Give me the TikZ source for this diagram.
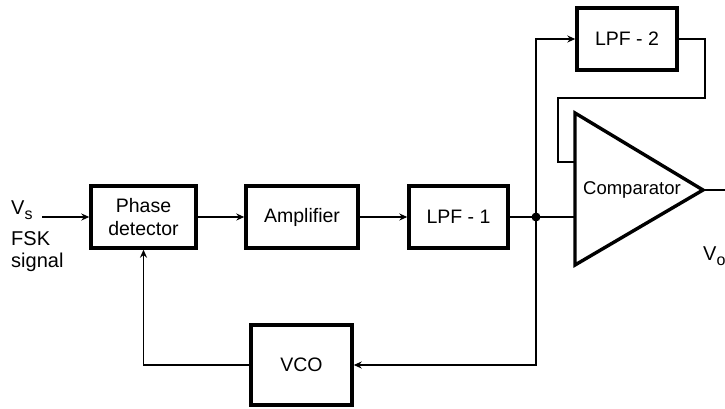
\documentclass[tikz,border=0pt]{standalone}
\usepackage{fontspec}
\setmainfont{Liberation Sans}
\usetikzlibrary{arrows.meta}
\begin{document}
\begin{tikzpicture}[x=1pt,y=-1pt,
  blk/.style={draw=black,line width=3.4pt,rectangle,inner sep=0pt,align=center,
     font=\fontsize{19.5}{23}\selectfont},
  wire/.style={line width=1.8pt},
  arr/.style={wire,-{Stealth[length=8pt,width=7pt]}},
  lbl/.style={inner sep=0pt,font=\fontsize{20}{22}\selectfont}]
\useasboundingbox (0,0) rectangle (725,408);
% blocks
\node[blk,minimum width=105pt,minimum height=62pt] (pd) at (143.5,217) {Phase\\detector};
\node[blk,minimum width=112pt,minimum height=62pt] (amp) at (302,217) {Amplifier};
\node[blk,minimum width=99pt,minimum height=62pt] (lpf1) at (458.5,217) {LPF - 1};
\node[blk,minimum width=100pt,minimum height=62pt] (lpf2) at (627,39) {LPF - 2};
\node[blk,minimum width=101pt,minimum height=80pt] (vco) at (301.5,365) {VCO};
% comparator triangle
\coordinate (ct) at (575,113);
\coordinate (cb) at (575,265);
\coordinate (ca) at (703,190);
\draw[line width=3.4pt,line join=miter] (ct) -- (ca) -- (cb) -- cycle;
\node[lbl,font=\fontsize{18.5}{20}\selectfont] (cmp) at (632,190) {Comparator};
\coordinate (cin) at (575,217);
\coordinate (cin2) at (575,162);
\coordinate (J) at (536,217);
\coordinate (in) at (42,217);
\coordinate (out) at (725,190);
% labels
\node[lbl,anchor=base west] (vs) at (11,214) {V\raisebox{-5pt}{\fontsize{16}{16}\selectfont s}};
\node[lbl,anchor=base west] (fsk) at (11,245) {FSK};
\node[lbl,anchor=base west] (sig) at (11,267) {signal};
\node[lbl,anchor=base west] (vo) at (703,260) {V\raisebox{-5pt}{\fontsize{16}{16}\selectfont o}};
% connectors
\draw[arr] (in) -- (pd.west);
\draw[arr] (pd.east) -- (amp.west);
\draw[arr] (amp.east) -- (lpf1.west);
\draw[wire] (lpf1.east) -- (J) -- (cin);
\draw[arr] (J) |- (lpf2.west);
\draw[wire] (lpf2.east) -| (705,98) -| (558,162) -- (cin2);
\draw[wire] (ca) -- (out);
\draw[arr] (J) |- (vco.east);
\draw[arr] (vco.west) -| (pd.south);
\fill (J) circle (4.5pt);
\end{tikzpicture}
\end{document}
